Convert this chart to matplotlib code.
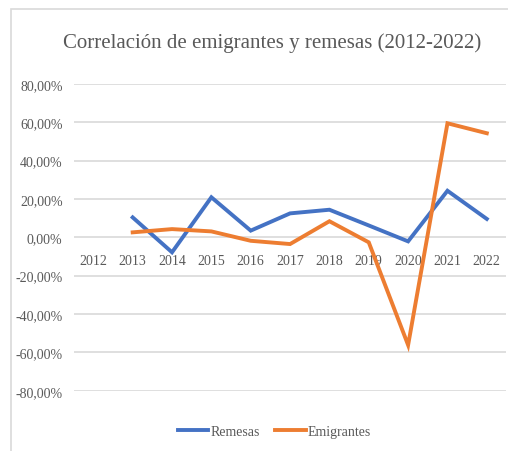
import matplotlib.pyplot as plt
from matplotlib.ticker import FuncFormatter
from matplotlib.patches import Rectangle

years = ['2012', '2013', '2014', '2015', '2016', '2017', '2018', '2019', '2020', '2021', '2022']
remesas = [None, 10.4, -7.8, 20.9, 3.5, 12.5, 14.4, 6.2, -2.1, 24.3, 9.6]
emigrantes = [None, 2.6, 4.3, 3.1, -1.8, -3.5, 8.4, -2.6, -56.2, 59.5, 54.3]

plt.rcParams['font.family'] = ['Liberation Serif', 'DejaVu Serif']
grey = '#595959'

fig = plt.figure(figsize=(5.08, 4.52), dpi=100)
ax = fig.add_axes([0.145, 0.1334, 0.852, 0.6786])

x = list(range(len(years)))
ax.plot(x[1:], [v / 100 for v in remesas[1:]], color='#4472C4', lw=2.8,
        label='Remesas', solid_joinstyle='miter')
ax.plot(x[1:], [v / 100 for v in emigrantes[1:]], color='#ED7D31', lw=2.8,
        label='Emigrantes', solid_joinstyle='miter')

ax.set_xlim(-0.5, len(years) - 0.5)
ax.set_ylim(-0.8, 0.8)
ax.set_yticks([i / 100 for i in range(-80, 81, 20)])
ax.yaxis.set_major_formatter(FuncFormatter(lambda v, p: f'{v * 100:.2f}%'.replace('.', ',')))
ax.set_xticks(x)
ax.set_xticklabels(years)
ax.grid(axis='y', color='#D9D9D9', lw=1.2)
ax.set_axisbelow(True)
for s in ax.spines.values():
    s.set_visible(False)
ax.spines['bottom'].set_position(('data', 0))
ax.tick_params(axis='x', length=0, pad=12, labelsize=10, colors=grey)
ax.tick_params(axis='y', length=0, pad=8, labelsize=10, colors=grey)

fig.text(0.535, 0.905, 'Correlación de emigrantes y remesas (2012-2022)',
         ha='center', va='center', fontsize=15, color=grey)

fig.legend(loc='center', bbox_to_anchor=(0.54, 0.044), ncol=2, frameon=False,
           fontsize=10, handlelength=2.2, handletextpad=0.15, columnspacing=1.1,
           labelcolor=grey)

fig.patches.append(Rectangle((11 / 508, -0.1), 1.2, 1 - 10 / 452 + 0.1,
                             transform=fig.transFigure, fill=False,
                             edgecolor='#D9D9D9', lw=1.2))

fig.savefig('out.png', dpi=100)
